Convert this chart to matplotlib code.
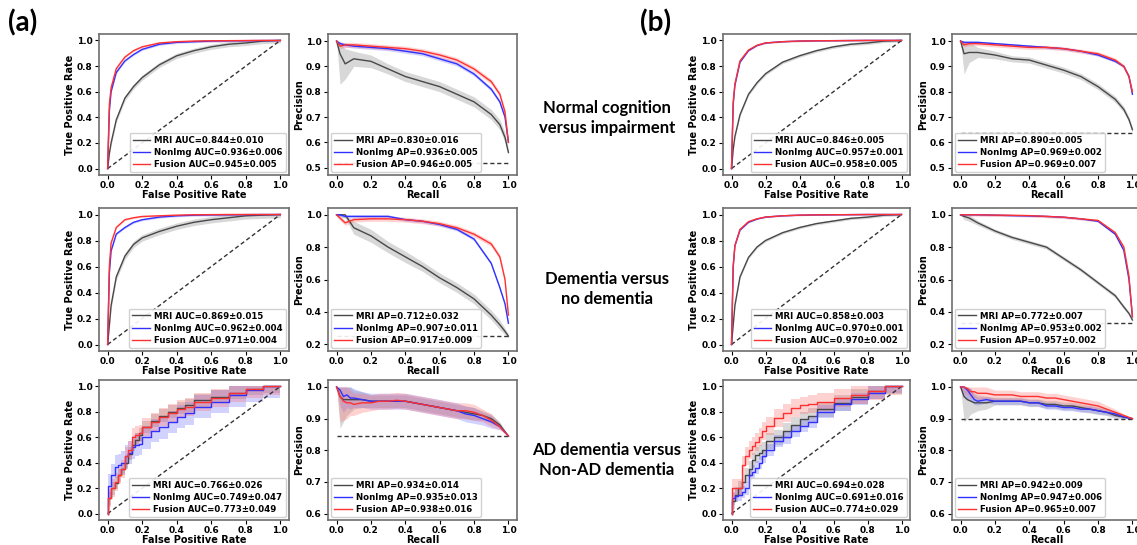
#!/usr/bin/env python3
"""
ROC and precision-recall curves for MRI, NonImg and Fusion models
(a) and (b): two test cohorts, three classification tasks each
"""

import numpy as np
import matplotlib
matplotlib.use('Agg')
import matplotlib.pyplot as plt

# shared x grids
FPR = [0, .01, .02, .05, .1, .15, .2, .3, .4, .5, .6, .7, .8, .9, 1.0]
RECALL = [0, .02, .05, .1, .2, .3, .4, .5, .6, .7, .8, .9, .95, .98, 1.0]
FPR_AD = [0, .02, .04, .06, .08, .1, .12, .14, .16, .18, .2, .25, .3, .35, .4, .45, .5, .6, .7, .8, .9, 1.0]
RECALL_AD = [0, .02, .04, .06, .08, .1, .15, .2, .25, .3, .35, .4, .45, .5, .55, .6, .65, .7, .75, .8, .85, .9, .95, 1.0]

TASKS = ['Normal cognition\nversus impairment', 'Dementia versus\nno dementia',
         'AD dementia versus\nNon-AD dementia']
MODELS = ['MRI', 'NonImg', 'Fusion']

# ---- (a) ROC ----
a1_roc_mri = [0, .12, .2, .38, .55, .64, .71, .81, .88, .92, .95, .97, .98, .995, 1]
a1_roc_nonimg = [0, .45, .6, .75, .84, .89, .93, .97, .985, .99, .995, .997, .998, .999, 1]
a1_roc_fusion = [0, .5, .63, .78, .87, .92, .95, .98, .99, .995, .997, .998, .999, 1, 1]
a2_roc_mri = [0, .15, .3, .52, .68, .77, .82, .87, .91, .94, .96, .975, .99, .995, 1]
a2_roc_nonimg = [0, .55, .72, .85, .9, .94, .96, .98, .99, .995, .997, .998, .999, 1, 1]
a2_roc_fusion = [0, .6, .78, .9, .96, .975, .985, .99, .995, .998, .999, 1, 1, 1, 1]
a3_roc_mri = [0, .12, .2, .24, .3, .35, .4, .47, .54, .58, .62, .68, .73, .77, .8, .83, .85, .89, .92, .95, .98, 1]
a3_roc_nonimg = [0, .22, .3, .37, .38, .4, .45, .48, .52, .54, .55, .6, .65, .68, .72, .76, .79, .84, .88, .93, .97, 1]
a3_roc_fusion = [0, .12, .2, .25, .3, .35, .45, .5, .6, .62, .63, .68, .72, .76, .79, .82, .84, .88, .91, .95, .98, 1]

# ---- (a) precision-recall ----
a1_pr_mri = [1.0, .95, .91, .93, .92, .89, .86, .84, .82, .79, .76, .71, .67, .62, .56]
a1_pr_nonimg = [1.0, .99, .985, .98, .975, .97, .96, .95, .93, .91, .87, .81, .76, .7, .6]
a1_pr_fusion = [1.0, .98, .985, .985, .98, .975, .97, .96, .945, .925, .89, .84, .79, .72, .6]
a2_pr_mri = [1.0, 1.0, 1.0, .92, .87, .8, .74, .68, .61, .55, .48, .38, .32, .28, .25]
a2_pr_nonimg = [1.0, 1.0, .99, .99, .99, .99, .97, .96, .94, .91, .85, .7, .55, .45, .33]
a2_pr_fusion = [1.0, .98, .95, .97, .975, .975, .97, .96, .945, .92, .88, .82, .74, .6, .38]
a3_pr_mri = [1.0, .97, .96, .96, .96, .96, .96, .955, .955, .955, .955, .955, .95, .945, .94, .935, .93, .925, .92, .915, .91, .9, .88, .845]
a3_pr_nonimg = [1.0, .99, .97, .975, .965, .965, .96, .955, .955, .955, .955, .955, .95, .945, .94, .935, .93, .925, .915, .91, .9, .89, .875, .845]
a3_pr_fusion = [1.0, .97, .955, .95, .95, .945, .95, .95, .955, .955, .958, .955, .95, .945, .94, .935, .93, .925, .925, .92, .91, .895, .875, .845]

# ---- (b) ROC ----
b1_roc_mri = [0, .15, .25, .42, .58, .67, .74, .83, .88, .92, .95, .97, .98, .995, 1]
b1_roc_nonimg = [0, .5, .65, .83, .92, .96, .98, .99, .995, .997, .998, .999, 1, 1, 1]
b1_roc_fusion = [0, .52, .66, .84, .925, .962, .98, .99, .995, .997, .998, .999, 1, 1, 1]
b2_roc_mri = [0, .15, .3, .52, .67, .75, .8, .86, .9, .93, .95, .97, .98, .995, 1]
b2_roc_nonimg = [0, .6, .76, .88, .94, .965, .98, .99, .995, .997, .998, .999, 1, 1, 1]
b2_roc_fusion = [0, .6, .76, .885, .945, .967, .98, .99, .995, .997, .998, .999, 1, 1, 1]
b3_roc_mri = [0, .1, .15, .2, .25, .3, .35, .42, .46, .48, .5, .57, .6, .65, .7, .74, .77, .82, .87, .92, .96, 1]
b3_roc_nonimg = [0, .12, .14, .15, .17, .2, .3, .33, .36, .4, .45, .5, .57, .6, .65, .69, .72, .8, .86, .9, .95, 1]
b3_roc_fusion = [0, .2, .2, .2, .38, .45, .5, .53, .56, .6, .65, .69, .75, .79, .83, .85, .86, .88, .91, .935, .96, 1]

# ---- (b) precision-recall ----
b1_pr_mri = [1.0, .95, .955, .955, .945, .93, .925, .905, .885, .86, .82, .77, .73, .69, .65]
b1_pr_nonimg = [1.0, .995, .995, .995, .99, .985, .98, .975, .97, .96, .945, .92, .9, .86, .79]
b1_pr_fusion = [1.0, .985, .99, .99, .985, .98, .975, .975, .97, .96, .95, .925, .9, .86, .8]
b2_pr_mri = [1.0, .99, .98, .95, .9, .86, .83, .8, .73, .66, .58, .5, .43, .39, .35]
b2_pr_nonimg = [1.0, 1.0, 1.0, 1.0, .998, .995, .993, .99, .985, .975, .96, .88, .78, .6, .37]
b2_pr_fusion = [1.0, 1.0, 1.0, 1.0, .998, .997, .995, .99, .985, .975, .965, .89, .8, .62, .37]
b3_pr_mri = [1.0, .97, .96, .955, .95, .95, .95, .955, .955, .955, .955, .95, .95, .945, .945, .94, .94, .935, .93, .925, .92, .91, .905, .9]
b3_pr_nonimg = [1.0, 1.0, .99, .975, .96, .955, .96, .955, .955, .955, .955, .95, .95, .94, .94, .935, .935, .93, .93, .925, .92, .915, .905, .9]
b3_pr_fusion = [1.0, 1.0, .995, .985, .985, .98, .98, .975, .975, .975, .97, .97, .97, .965, .965, .96, .955, .95, .945, .94, .93, .92, .91, .9]

# std bands (scalar = constant over the curve)
a_roc_sd = [[.02, .008, .008], [.025, .008, .006], [.05, .09, .07]]
b_roc_sd = [[.012, .004, .006], [.01, .004, .004], [.06, .05, .07]]
a1_pr_sd_mri = [0, .12, .06, .03, .025, .02, .02, .02, .02, .02, .02, .02, .02, .02, .01]
a2_pr_sd_mri = [0, .01, .02, .04, .04, .035, .035, .03, .03, .03, .03, .03, .03, .02, .01]
a3_pr_sd_mri = [0, .1, .07, .05, .04, .03, .025] + [.02] * 13 + [.015, .015, .01, 0]
a3_pr_sd_nonimg = [0, .05, .05, .04, .035, .03, .025] + [.025] * 13 + [.02, .02, .01, 0]
a3_pr_sd_fusion = [0, .08, .06, .05, .04, .035, .03] + [.025] * 13 + [.02, .02, .01, 0]
b1_pr_sd_mri = [0, .08, .04, .02, .015, .012, .012, .012, .012, .012, .012, .012, .012, .012, .01]
b2_pr_sd_mri = [0, .02, .02, .015, .012, .012, .012, .012, .012, .012, .012, .012, .012, .01, .01]
b3_pr_sd_mri = [0, .08, .06, .04, .03, .025, .02] + [.012] * 13 + [.01, .01, .005, 0]
b3_pr_sd_nonimg = [0, .03, .03, .02, .015, .012, .01] + [.01] * 13 + [.008, .008, .005, 0]
b3_pr_sd_fusion = [0, .02, .02, .02, .02, .02, .02] + [.015] * 13 + [.012, .01, .005, 0]

# AUC / AP (mean, std) per task
a_auc = [[(.844, .010), (.936, .006), (.945, .005)],
         [(.869, .015), (.962, .004), (.971, .004)],
         [(.766, .026), (.749, .047), (.773, .049)]]
a_ap = [[(.830, .016), (.936, .005), (.946, .005)],
        [(.712, .032), (.907, .011), (.917, .009)],
        [(.934, .014), (.935, .013), (.938, .016)]]
b_auc = [[(.846, .005), (.957, .001), (.958, .005)],
         [(.858, .003), (.970, .001), (.970, .002)],
         [(.694, .028), (.691, .016), (.774, .029)]]
b_ap = [[(.890, .005), (.969, .002), (.969, .007)],
        [(.772, .007), (.953, .002), (.957, .002)],
        [(.942, .009), (.947, .006), (.965, .007)]]

# positive-class rate (chance line of the PR plots)
a_pos_rate = [0.52, 0.25, 0.845]
b_pos_rate = [0.636, 0.33, 0.9]

COLORS = ['#484848', '#3030ff', '#ff3030']
BAND_COLORS = ['#808080', '#6a6aff', '#ff6a6a']

W, H = 1137, 545
ROW_TOP = [34, 208, 380]
ROW_H = [141, 143, 140]
PR_YLIM = [(0.471, 1.028), (0.158, 1.042), (0.58, 1.022)]
PR_YTICKS = [[.5, .6, .7, .8, .9, 1.0], [.2, .4, .6, .8, 1.0], [.6, .7, .8, .9, 1.0]]


def rect(left, top, w, h):
    return [left / W, 1 - (top + h) / H, w / W, h / H]


def style_axes(ax):
    for s in ax.spines.values():
        s.set_color('#6e6e6e')
        s.set_linewidth(1.2)
    ax.tick_params(labelsize=6.5, length=3, width=0.8, pad=1.5)
    ax.set_xlim(-0.05, 1.05)
    ax.set_xticks([0, .2, .4, .6, .8, 1.0])
    ax.set_xticklabels(['0.0', '0.2', '0.4', '0.6', '0.8', '1.0'], fontweight='bold')


def draw_curves(ax, x, curves, sds, labels, step=False):
    x = np.array(x)
    for y, sd, lab, col, bcol in zip(curves, sds, labels, COLORS, BAND_COLORS):
        y = np.array(y, dtype=float)
        sd = np.broadcast_to(np.array(sd, dtype=float), y.shape)
        lo = np.clip(y - sd, 0, 1)
        hi = np.clip(y + sd, 0, 1)
        ax.fill_between(x, lo, hi, color=bcol, alpha=0.3, lw=0,
                        step='pre' if step else None)
        ax.plot(x, y, color=col, lw=1.0, label=lab,
                drawstyle='steps-pre' if step else 'default')


def legend(ax, loc):
    ax.legend(loc=loc, prop=dict(weight='bold', size=6.2), handlelength=2.0,
              handletextpad=0.5, borderpad=0.35, labelspacing=0.35,
              borderaxespad=0.4, edgecolor='#cccccc', framealpha=0.9)


def draw_panel(fig, roc_left, roc_w, pr_left, pr_w, roc_rows, pr_rows,
               roc_sds, pr_sds, auc, ap, pos_rate):
    for r in range(3):
        top, h = ROW_TOP[r], ROW_H[r]
        step = (r == 2)

        # ROC
        ax = fig.add_axes(rect(roc_left, top, roc_w, h))
        ax.plot([0, 1], [0, 1], '--', color='#333333', lw=1.0, dashes=(3, 2))
        labels = [f'{m} AUC={v[0]:.3f}±{v[1]:.3f}' for m, v in zip(MODELS, auc[r])]
        draw_curves(ax, FPR_AD if step else FPR, roc_rows[r], roc_sds[r], labels, step)
        style_axes(ax)
        ax.set_ylim(-0.05, 1.05)
        ax.set_yticks([0, .2, .4, .6, .8, 1.0])
        ax.set_yticklabels(['0.0', '0.2', '0.4', '0.6', '0.8', '1.0'], fontweight='bold')
        ax.set_xlabel('False Positive Rate', fontsize=7, fontweight='bold', labelpad=0)
        ax.set_ylabel('True Positive Rate', fontsize=7, fontweight='bold', labelpad=1)
        legend(ax, 'lower right')

        # precision-recall
        ax = fig.add_axes(rect(pr_left, top, pr_w, h))
        ax.plot([0, 1], [pos_rate[r], pos_rate[r]], '--', color='#333333', lw=1.0, dashes=(3, 2))
        labels = [f'{m} AP={v[0]:.3f}±{v[1]:.3f}' for m, v in zip(MODELS, ap[r])]
        draw_curves(ax, RECALL_AD if step else RECALL, pr_rows[r], pr_sds[r], labels)
        style_axes(ax)
        ax.set_ylim(*PR_YLIM[r])
        ax.set_yticks(PR_YTICKS[r])
        ax.set_yticklabels([f'{t:.1f}' for t in PR_YTICKS[r]], fontweight='bold')
        ax.set_xlabel('Recall', fontsize=7, fontweight='bold', labelpad=0)
        ax.set_ylabel('Precision', fontsize=7, fontweight='bold', labelpad=1)
        legend(ax, 'lower left')


def main():
    fig = plt.figure(figsize=(W / 100, H / 100), dpi=100)

    a_roc = [[a1_roc_mri, a1_roc_nonimg, a1_roc_fusion],
             [a2_roc_mri, a2_roc_nonimg, a2_roc_fusion],
             [a3_roc_mri, a3_roc_nonimg, a3_roc_fusion]]
    a_pr = [[a1_pr_mri, a1_pr_nonimg, a1_pr_fusion],
            [a2_pr_mri, a2_pr_nonimg, a2_pr_fusion],
            [a3_pr_mri, a3_pr_nonimg, a3_pr_fusion]]
    b_roc = [[b1_roc_mri, b1_roc_nonimg, b1_roc_fusion],
             [b2_roc_mri, b2_roc_nonimg, b2_roc_fusion],
             [b3_roc_mri, b3_roc_nonimg, b3_roc_fusion]]
    b_pr = [[b1_pr_mri, b1_pr_nonimg, b1_pr_fusion],
            [b2_pr_mri, b2_pr_nonimg, b2_pr_fusion],
            [b3_pr_mri, b3_pr_nonimg, b3_pr_fusion]]
    a_pr_sd = [[a1_pr_sd_mri, .008, .01],
               [a2_pr_sd_mri, .01, .015],
               [a3_pr_sd_mri, a3_pr_sd_nonimg, a3_pr_sd_fusion]]
    b_pr_sd = [[b1_pr_sd_mri, .005, .008],
               [b2_pr_sd_mri, .005, .008],
               [b3_pr_sd_mri, b3_pr_sd_nonimg, b3_pr_sd_fusion]]

    draw_panel(fig, 99, 190, 328, 189, a_roc, a_pr, a_roc_sd, a_pr_sd, a_auc, a_ap, a_pos_rate)
    draw_panel(fig, 723, 187, 952, 189, b_roc, b_pr, b_roc_sd, b_pr_sd, b_auc, b_ap, b_pos_rate)

    # task names in the middle column
    for r, task in enumerate(TASKS):
        yc = [118, 289, 460][r]
        fig.text(607 / W, 1 - yc / H, task, ha='center', va='center',
                 fontsize=12, fontweight='bold', family='Lato', linespacing=1.3)

    fig.text(8 / W, 1 - 23 / H, '(a)', ha='left', va='center', fontsize=20,
             fontweight='bold', family='Lato')
    fig.text(640 / W, 1 - 23 / H, '(b)', ha='left', va='center', fontsize=20,
             fontweight='bold', family='Lato')

    fig.savefig('out.png', dpi=100)


if __name__ == "__main__":
    main()
